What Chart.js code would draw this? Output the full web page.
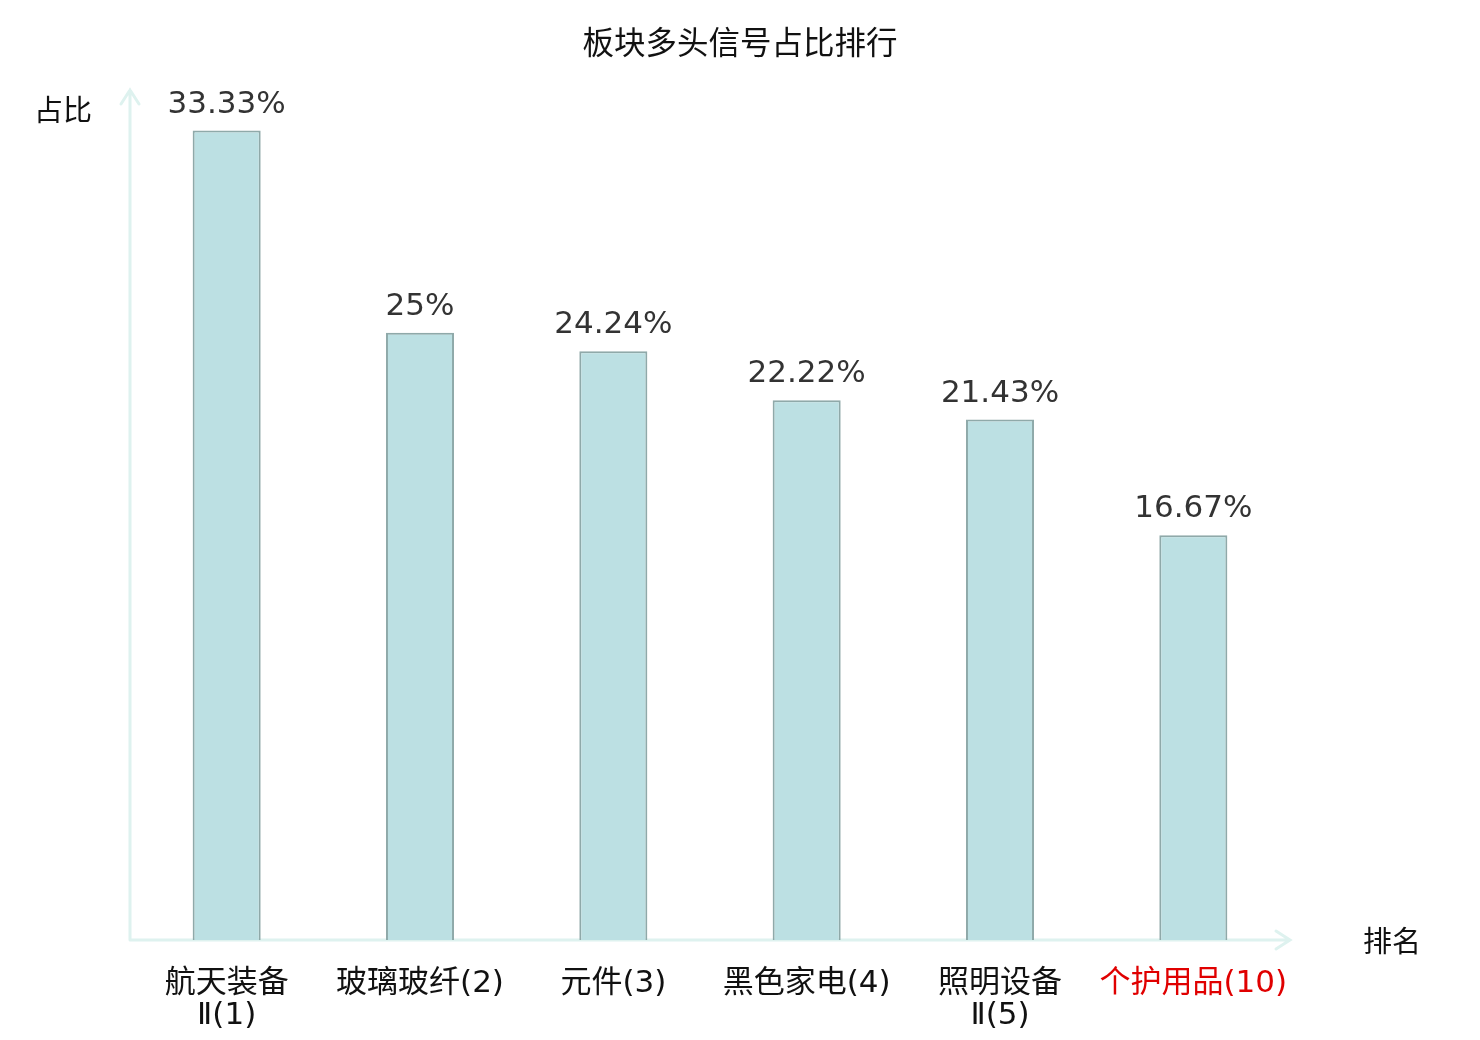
<!DOCTYPE html>
<html>
<head>
<meta charset="utf-8">
<script src="https://cdn.jsdelivr.net/npm/chart.js@4/dist/chart.umd.min.js"></script>
<style>
  html, body { margin: 0; padding: 0; background: #fff; }
  #wrap { width: 1480px; height: 1040px; }
</style>
</head>
<body>
<div id="wrap"><canvas id="myChart"></canvas></div>
<script>
// data
var categories = [['航天装备', 'Ⅱ(1)'], '玻璃玻纤(2)', '元件(3)', '黑色家电(4)', ['照明设备', 'Ⅱ(5)'], '个护用品(10)'];
var ratios = [33.33, 25, 24.24, 22.22, 21.43, 16.67];
var ratioLabels = ['33.33%', '25%', '24.24%', '22.22%', '21.43%', '16.67%'];
var tickColors = ['#111', '#111', '#111', '#111', '#111', '#e00000'];

var titleText = '板块多头信号占比排行';
var yName = '占比';
var xName = '排名';

var axisColor = '#def2ef';
var cjk = '"Noto Sans CJK SC", "Noto Sans", sans-serif';
var tickFont = '"DejaVu Sans", "Noto Sans CJK SC", sans-serif';

// title, axis names, arrow axes and value labels
var decor = {
    id: 'decor',
    beforeDatasetsDraw: function(chart) {
        var ctx = chart.ctx, a = chart.chartArea;
        ctx.save();
        ctx.strokeStyle = axisColor;
        ctx.lineWidth = 3;
        ctx.lineCap = 'round';
        ctx.beginPath();
        // y axis
        ctx.moveTo(a.left, a.bottom);
        ctx.lineTo(a.left, a.top);
        ctx.moveTo(a.left - 9, a.top + 14);
        ctx.lineTo(a.left, a.top);
        ctx.lineTo(a.left + 9, a.top + 14);
        // x axis
        ctx.moveTo(a.left, a.bottom);
        ctx.lineTo(a.right, a.bottom);
        ctx.moveTo(a.right - 14, a.bottom - 9);
        ctx.lineTo(a.right, a.bottom);
        ctx.lineTo(a.right - 14, a.bottom + 9);
        ctx.stroke();
        ctx.restore();
    },
    afterDatasetsDraw: function(chart) {
        var ctx = chart.ctx, a = chart.chartArea;
        ctx.save();
        ctx.fillStyle = '#111';
        ctx.textAlign = 'center';
        ctx.textBaseline = 'middle';
        ctx.font = '31.5px ' + cjk;
        ctx.fillText(titleText, chart.width / 2, 42);
        ctx.font = '29px ' + cjk;
        ctx.fillText(yName, a.left - 67, a.top + 20);
        ctx.fillText(xName, a.right + 102, a.bottom + 1);

        ctx.fillStyle = '#333';
        ctx.font = '31px "DejaVu Sans", sans-serif';
        var meta = chart.getDatasetMeta(0);
        meta.data.forEach(function(bar, i) {
            ctx.fillText(ratioLabels[i], bar.x, bar.y - 26);
        });
        ctx.restore();
    }
};

new Chart(document.getElementById('myChart'), {
    type: 'bar',
    data: {
        labels: categories,
        datasets: [{
            data: ratios,
            backgroundColor: '#bce0e3',
            borderColor: '#8fa9a9',
            borderWidth: 2,
            barPercentage: 0.352,
            categoryPercentage: 1
        }]
    },
    options: {
        responsive: true,
        maintainAspectRatio: false,
        animation: false,
        layout: { padding: { left: 130, right: 190, top: 90, bottom: 0 } },
        plugins: {
            legend: { display: false },
            title: { display: false },
            tooltip: { enabled: false }
        },
        scales: {
            x: {
                grid: { display: false, drawTicks: false },
                border: { display: false },
                afterFit: function(scale) { scale.height = 100; },
                ticks: {
                    color: tickColors,
                    padding: 28,
                    maxRotation: 0,
                    autoSkip: false,
                    font: { family: tickFont, size: 31, lineHeight: 1.04 }
                }
            },
            y: {
                display: false,
                min: 0,
                max: 35
            }
        }
    },
    plugins: [decor]
});
</script>
</body>
</html>
